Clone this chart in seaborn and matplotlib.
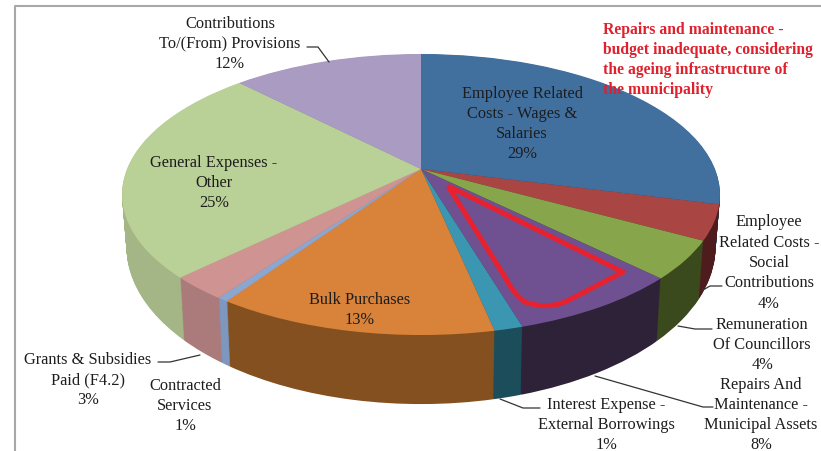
import numpy as np
import seaborn as sns
import matplotlib.pyplot as plt
from matplotlib.patches import PathPatch
from matplotlib.path import Path
from matplotlib.transforms import Transform

sns.set_theme(style="white")
plt.rcParams['font.family'] = ['Liberation Serif', 'DejaVu Serif']

# share of budget (labels below are the rounded ones)
categories = ["Employee Related Costs - Wages & Salaries",
              "Employee Related Costs - Social Contributions",
              "Remuneration Of Councillors",
              "Repairs And Maintenance - Municipal Assets",
              "Interest Expense - External Borrowings",
              "Bulk Purchases",
              "Contracted Services",
              "Grants & Subsidies Paid (F4.2)",
              "General Expenses - Other",
              "Contributions To/(From) Provisions"]
shares = [29.0, 4.0, 4.4, 8.0, 1.3, 12.8, 0.5, 2.7, 25.0, 12.3]
label_text = ["Employee Related\nCosts - Wages &\nSalaries\n29%",
              "Employee\nRelated Costs -\nSocial\nContributions\n4%",
              "Remuneration\nOf Councillors\n4%",
              "Repairs And\nMaintenance -\nMunicipal Assets\n8%",
              "Interest Expense -\nExternal Borrowings\n1%",
              "Bulk Purchases\n13%",
              "Contracted\nServices\n1%",
              "Grants & Subsidies\nPaid (F4.2)\n3%",
              "General Expenses -\nOther\n25%",
              "Contributions\nTo/(From) Provisions\n12%"]
note_text = "Repairs and maintenance -\nbudget inadequate, considering\nthe ageing infrastructure of\nthe municipality"

top_colors = ["#41709f", "#a94644", "#87a54a", "#6f5191", "#3b97b1",
              "#d8823a", "#8ba6cf", "#cf9492", "#b9d096", "#a99bc1"]
wall_colors = ["#2a4a6e", "#4e1c1c", "#3a4a1d", "#2e2238", "#1b4d5a",
               "#84501f", "#7d97bf", "#ab7b7b", "#a4b586", "#8f82a6"]

# where the text sits, in pixels of the picture
label_xy = [(522, 124), (769, 263), (762, 345), (761, 415), (606, 425),
            (360, 310), (185, 406), (88, 380), (214, 183), (230, 44)]
leaders = [[(703, 291), (710, 287), (722, 287)],
           [(678, 327), (695, 330), (712, 330)],
           [(595, 377), (703, 408), (713, 408)],
           [(500, 400), (523, 409), (540, 409)],
           [(200, 356), (170, 363), (158, 363)],
           [(307, 48), (318, 48), (329, 63)]]


class TiltedPie(Transform):
    # unit pie -> picture pixels, tilted with perspective; drop 0 is the top face, 1 the base
    input_dims = 2
    output_dims = 2
    is_separable = False

    def __init__(self, drop=0.0):
        super().__init__()
        self.drop = drop

    def transform_non_affine(self, values):
        xy = np.asarray(values, dtype=float)
        w = 1 + 0.1815 * xy[:, 1]
        px = 294 * xy[:, 0] / w
        py = 135.9 * xy[:, 1] / w
        return np.column_stack([421 + px * (1 - 0.015 * self.drop),
                                170 - py * (1 + 0.117 * self.drop) + 49.6 * self.drop])

    def inverted(self):
        raise NotImplementedError


fig, ax = plt.subplots(figsize=(8.21, 4.52), dpi=100)
fig.subplots_adjust(0, 0, 1, 1)

# wall: stack of pies from the base upward, then the top face
for drop in np.linspace(1, 0, 70):
    colors = top_colors if drop == 0 else wall_colors
    wedges, _ = ax.pie(shares, colors=colors, startangle=90, counterclock=False, radius=1)
    for w in wedges:
        w.set_transform(TiltedPie(drop) + ax.transData)
        w.set_linewidth(0)
        w.set_clip_on(False)

ax.set_aspect('auto')
ax.set_xlim(0, 821)
ax.set_ylim(452, 0)
ax.set_axis_off()

# chart frame line at the top and left
ax.plot([15, 15, 821], [452, 7, 7], color="#a8a8a8", lw=1.5, solid_capstyle='butt')

# red ring around the repairs slice
ring = Path([(448, 187), (623, 273), (567, 302), (547, 311), (525, 303), (515, 297), (505, 278), (448, 187)],
            [Path.MOVETO, Path.LINETO, Path.LINETO, Path.CURVE3, Path.CURVE3, Path.CURVE3, Path.CURVE3, Path.LINETO])
ax.add_patch(PathPatch(ring, fill=False, edgecolor="#e8212f", lw=3.6, joinstyle='round'))

for pts in leaders:
    xs, ys = zip(*pts)
    ax.plot(xs, ys, color="#333333", lw=0.9)

for text, (x, y) in zip(label_text, label_xy):
    ax.text(x, y, text, ha='center', va='center', fontsize=11.8, color="#1d1d1d", linespacing=1.36)

ax.text(603, 60, note_text, ha='left', va='center', fontsize=11.3, fontweight='bold',
        color="#e0202c", linespacing=1.34)

fig.savefig("out.png", dpi=100)
